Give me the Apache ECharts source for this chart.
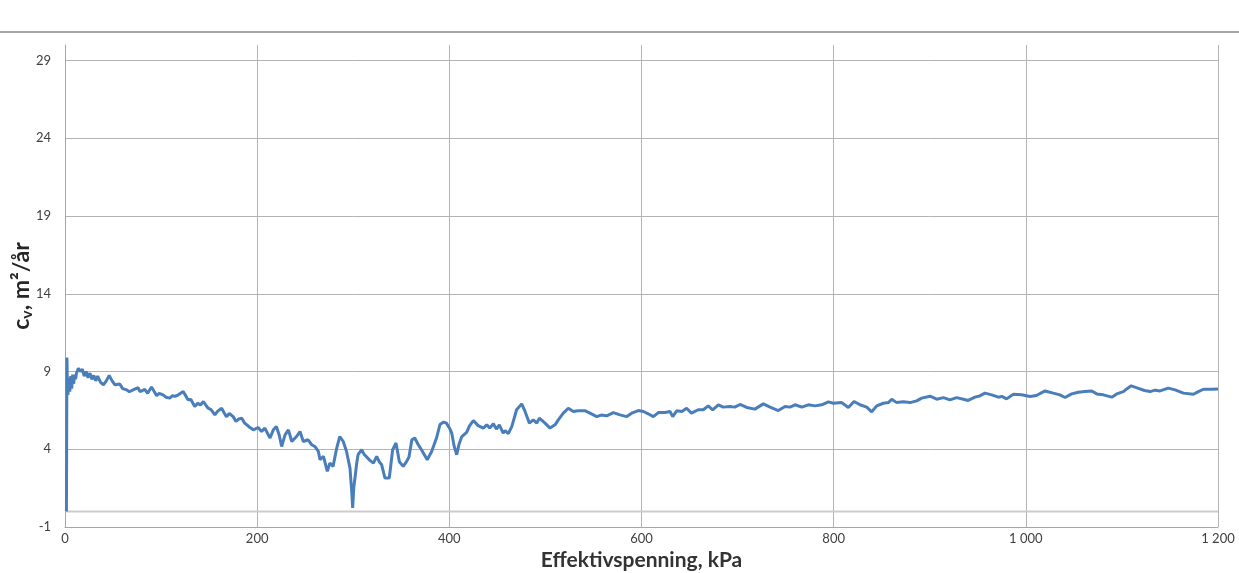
<!DOCTYPE html>
<html>
<head>
<meta charset="utf-8">
<script src="https://cdn.jsdelivr.net/npm/echarts@6/dist/echarts.min.js"></script>
<style>
html,body{margin:0;padding:0;background:#fff;}
#chart{width:1239px;height:573px;}
</style>
</head>
<body>
<div id="chart"></div>
<script>
// Effective stress (kPa)
const effektivspenning = [
  1.5, 2, 2.5, 3, 4, 5, 6, 7, 8, 9, 10, 11, 12, 13.9, 16, 18, 20, 22, 24, 26, 28, 30, 32, 34, 37, 40, 43, 46, 49, 52, 54, 57, 60, 64, 67, 69, 72, 76, 78, 80, 83, 86, 90, 93, 95.4, 98,
  102, 105, 109, 112, 114.5, 118, 123, 126, 128, 131, 135, 138, 141, 144, 147, 149, 152, 156, 159, 163, 166, 168, 171, 175, 178, 181, 184, 187, 189, 192.5, 196, 198,
  201, 204.6, 208, 211, 213.4, 216.8, 220, 223, 225.5, 229, 232.5, 236, 241, 244.6, 248, 253, 256.8, 260, 263.7, 265.4, 269, 273, 275.6, 279, 282.8, 286, 289.6, 293, 296.6, 298.5, 299.4,
  300.5, 301.8, 303.6, 305, 308.8, 311, 314, 317, 321, 324.4, 327, 329.6, 333, 335, 337.5, 341, 344.5, 348, 352, 355.6, 358, 361, 364, 367.7, 371, 373, 377, 381.6, 386.9, 390.3, 394, 397,
  400.7, 402.5, 405, 407.7, 410, 413, 418, 421, 425, 430, 435.4, 439, 442, 445.8, 449, 452, 456, 458, 461.4, 465, 470, 475.3, 478.8, 483.3, 487.4, 491, 493.7, 499.6,
  504.8, 510, 513.4, 518.6, 523.8, 529, 534, 541, 546.4, 553.4, 558, 563.8, 570.7, 577.6, 584.6, 589.8, 596.7,
  602, 607, 612.3, 617.5, 624.5, 629.7, 632.5, 636.6, 642, 647, 652, 659, 664.3, 669.5, 674, 680, 685, 692, 697,
  702.5, 709.5, 718, 726.8, 733.8, 742.4, 749.4, 754.6, 759.8, 766.8, 773.6, 780.6, 787.6, 794.5, 799.6,
  808.4, 815.3, 821.2, 827.4, 834.4, 839.6, 844.8, 851.7, 857, 860.4, 865.6, 872.5, 879.5, 886.4, 891.6,
  900.3, 907.3, 914.2, 921, 928, 935, 940, 947, 952, 957.5, 964.5, 971.4, 975, 980, 987, 995.7,
  1004.4, 1011, 1020, 1028.6, 1035.5, 1040.8, 1047.7, 1054.6, 1061.6, 1068.6, 1073.8, 1080.7, 1089.4, 1094.6,
  1101.5, 1105, 1109.6, 1116.5, 1123.5, 1129.3, 1134.5, 1139.7, 1148.3, 1155.3, 1164, 1174.4, 1179.6, 1184.8, 1193.5, 1200
];
// Consolidation coefficient c_v (m²/år)
const cv = [
  0.0, 9.9, 8.2, 7.5, 8.6, 7.7, 8.7, 7.9, 8.8, 8.2, 8.8, 8.5, 8.9, 9.2, 9.0, 9.15, 8.7, 9.0, 8.6, 8.9, 8.5, 8.75, 8.4, 8.7, 8.3, 8.15, 8.4, 8.75, 8.4, 8.15, 8.05, 8.2, 7.9, 7.82, 7.7, 7.6, 7.85, 7.97, 7.7, 7.6, 7.85, 7.6, 8.0, 7.7, 7.45, 7.6,
  7.5, 7.35, 7.29, 7.45, 7.4, 7.5, 7.71, 7.4, 7.18, 7.2, 6.75, 6.95, 6.85, 7.07, 6.8, 6.64, 6.55, 6.21, 6.45, 6.64, 6.3, 6.1, 6.3, 6.1, 5.79, 5.95, 6.0, 5.68, 5.57, 5.4, 5.25, 5.14,
  5.4, 5.14, 5.36, 5.0, 4.72, 5.25, 5.46, 4.9, 4.18, 4.93, 5.25, 4.5, 4.82, 5.14, 4.5, 4.61, 4.29, 4.18, 3.86, 3.33, 3.54, 2.58, 3.11, 2.9, 4.08, 4.82, 4.5, 3.86, 2.79, 1.2, 0.23,
  1.5, 2.15, 3.1, 3.65, 3.97, 3.7, 3.5, 3.3, 3.11, 3.54, 3.2, 3.0, 2.15, 2.04, 2.15, 3.97, 4.4, 3.2, 2.9, 3.22, 3.5, 4.61, 4.72, 4.29, 3.97, 3.9, 3.33, 3.85, 4.78, 5.6, 5.75, 5.68,
  5.3, 5.04, 4.2, 3.65, 4.3, 4.82, 5.09, 5.5, 5.85, 5.52, 5.36, 5.57, 5.36, 5.64, 5.3, 5.57, 5.04, 5.2, 5.0, 5.46, 6.54, 6.92, 6.43, 5.68, 5.89, 5.68, 6.0, 5.68,
  5.36, 5.57, 5.89, 6.32, 6.64, 6.43, 6.48, 6.48, 6.32, 6.1, 6.2, 6.15, 6.36, 6.21, 6.1, 6.32, 6.49,
  6.43, 6.28, 6.1, 6.36, 6.36, 6.43, 6.1, 6.47, 6.43, 6.64, 6.32, 6.54, 6.54, 6.79, 6.54, 6.86, 6.71, 6.75, 6.71,
  6.88, 6.69, 6.58, 6.92, 6.71, 6.49, 6.75, 6.71, 6.86, 6.71, 6.86, 6.79, 6.86, 7.05, 6.96,
  7.0, 6.69, 7.07, 6.86, 6.71, 6.41, 6.79, 6.96, 7.0, 7.22, 7.0, 7.05, 7.0, 7.11, 7.29,
  7.41, 7.22, 7.32, 7.18, 7.32, 7.22, 7.14, 7.35, 7.43, 7.61, 7.5, 7.35, 7.4, 7.24, 7.54, 7.5,
  7.39, 7.46, 7.75, 7.61, 7.5, 7.33, 7.56, 7.67, 7.71, 7.75, 7.56, 7.5, 7.35, 7.56,
  7.71, 7.88, 8.08, 7.93, 7.78, 7.71, 7.8, 7.75, 7.93, 7.82, 7.61, 7.54, 7.71, 7.86, 7.86, 7.88
];
// Axis ranges / ticks
const xMin = 0, xMax = 1200, xStep = 200;
const yMin = -1, yMax = 30, yStep = 5;   // tick labels -1, 4, 9, ..., 29
const axisCross = 0;                     // horizontal axis crosses c_v = 0

const chart = echarts.init(document.getElementById('chart'), null, {renderer: 'canvas'});
const points = effektivspenning.map((x, i) => [x, cv[i]]);
const FONT = 'Lato, "Open Sans", "Noto Sans", sans-serif';

function fmtThousands(v) {
  if (Math.abs(v) >= 1000) {
    const t = Math.floor(v / 1000);
    const r = String(v % 1000).padStart(3, '0');
    return t + ' ' + r;
  }
  return String(v);
}

chart.setOption({
  animation: false,
  backgroundColor: '#ffffff',
  graphic: [{
    type: 'rect',
    left: 0, top: 31,
    shape: {width: 1239, height: 2},
    style: {fill: '#a6a6a6'}
  }],
  grid: {left: 65, right: 21, top: 45, bottom: 46, containLabel: false, outerBoundsMode: 'none'},
  xAxis: {
    type: 'value',
    min: xMin, max: xMax, interval: xStep,
    name: 'Effektivspenning, kPa',
    nameLocation: 'middle',
    nameGap: 22,
    nameTextStyle: {fontFamily: FONT, fontSize: 21, fontWeight: 'bold', color: '#333333'},
    axisLine: {onZero: false, show: true, lineStyle: {color: '#a6a6a6', width: 1}},
    axisTick: {show: false},
    axisLabel: {fontFamily: FONT, fontSize: 13, color: '#404040', margin: 5, formatter: fmtThousands},
    splitLine: {show: true, lineStyle: {color: '#b3b3b3', width: 1}}
  },
  yAxis: [{
    // display axis: same pixel span, ticks counted from a multiple of the interval
    type: 'value',
    min: 0, max: yMax - yMin, interval: yStep,
    position: 'left',
    name: '{a|c}{s|v}{a|, m²/år}',
    nameLocation: 'middle',
    nameGap: 30,
    nameMoveOverlap: false,
    nameRotate: 90,
    nameTextStyle: {
      rich: {
        a: {fontFamily: FONT, fontSize: 23, fontWeight: 'bold', color: '#262626'},
        s: {fontFamily: FONT, fontSize: 16, fontWeight: 'bold', color: '#262626', padding: [10, 0, 0, 0]}
      }
    },
    axisLine: {show: true, lineStyle: {color: '#a6a6a6', width: 1}},
    axisTick: {show: false},
    axisLabel: {
      fontFamily: FONT, fontSize: 13, color: '#404040', margin: 14,
      showMaxLabel: false,
      formatter: v => String(v + yMin)
    },
    splitLine: {show: true, showMaxLine: false, lineStyle: {color: '#b3b3b3', width: 1}}
  }, {
    // data axis
    type: 'value',
    min: yMin, max: yMax,
    show: false,
    splitLine: {show: false}
  }],
  series: [{
    // horizontal axis line at c_v = 0
    type: 'line',
    yAxisIndex: 1,
    silent: true,
    data: [[xMin, axisCross], [xMax, axisCross]],
    showSymbol: false,
    symbol: 'none',
    lineStyle: {color: '#cccccc', width: 2},
    z: 2
  }, {
    type: 'line',
    yAxisIndex: 1,
    data: points,
    showSymbol: false,
    symbol: 'none',
    smooth: false,
    lineStyle: {color: '#4a7ebb', width: 3},
    itemStyle: {color: '#4a7ebb'},
    z: 3
  }]
});
</script>
</body>
</html>
